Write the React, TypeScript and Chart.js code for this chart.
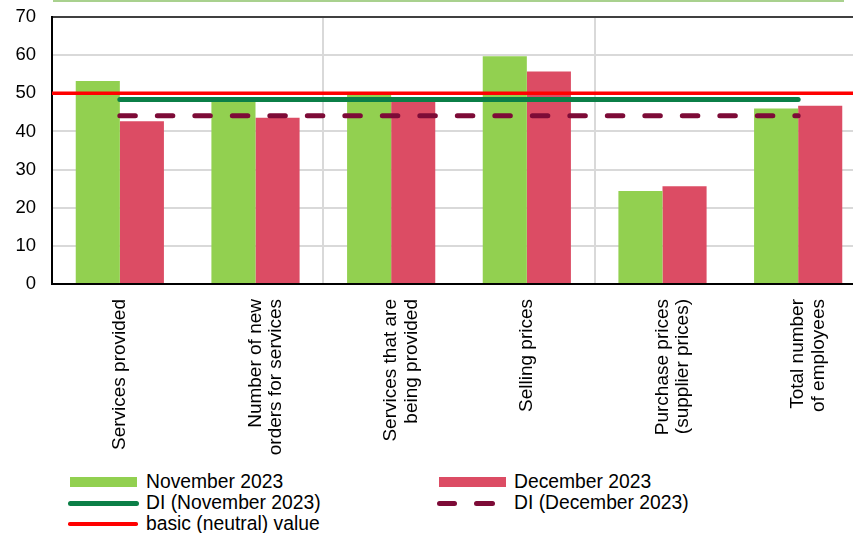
import React, { useEffect, useRef } from "react";
import { Chart, registerables } from "chart.js";

Chart.register(...registerables);

// ---- data ----
const categories: string[][] = [
  ["Services provided"],
  ["Number of new", "orders for services"],
  ["Services that are", "being provided"],
  ["Selling prices"],
  ["Purchase prices", "(supplier prices)"],
  ["Total number", "of employees"],
];
const november2023 = [53.2, 48.0, 49.7, 59.7, 24.4, 46.0];
const december2023 = [42.7, 43.6, 48.4, 55.7, 25.6, 46.7];
const diNovember2023 = [48.4, 48.4, 48.4, 48.4, 48.4, 48.4];
const diDecember2023 = [44.1, 44.1, 44.1, 44.1, 44.1, 44.1];
const neutralValue = 50;
const seriesLabels = [
  "November 2023",
  "December 2023",
  "DI (November 2023)",
  "DI (December 2023)",
  "basic (neutral) value",
];

const COLORS = {
  nov: "#92d050",
  dec: "#dc4c64",
  diNov: "#0b7f47",
  diDec: "#7d0b37",
  neutral: "#ff0000",
};

const FONT = "'Liberation Sans', Arial, sans-serif";

// neutral level: horizontal line across the whole plot area, placed via the y scale
const neutralLinePlugin = {
  id: "neutralLine",
  afterDatasetsDraw(chart: any) {
    const { ctx, chartArea, scales } = chart;
    const y = scales.y.getPixelForValue(neutralValue);
    ctx.save();
    ctx.beginPath();
    ctx.strokeStyle = COLORS.neutral;
    ctx.lineWidth = 3.5;
    ctx.moveTo(chartArea.left, y);
    ctx.lineTo(chartArea.right, y);
    ctx.stroke();
    ctx.restore();
  },
};

export default function App() {
  const ref = useRef<HTMLCanvasElement | null>(null);

  useEffect(() => {
    if (!ref.current) return;
    Chart.defaults.color = "#000";
    Chart.defaults.font.family = FONT;
    const chart = new Chart(ref.current, {
      type: "bar",
      data: {
        labels: categories,
        datasets: [
          {
            type: "bar",
            label: seriesLabels[0],
            data: november2023,
            backgroundColor: COLORS.nov,
            order: 2,
          },
          {
            type: "bar",
            label: seriesLabels[1],
            data: december2023,
            backgroundColor: COLORS.dec,
            order: 2,
          },
          {
            type: "line",
            label: seriesLabels[2],
            data: diNovember2023,
            borderColor: COLORS.diNov,
            backgroundColor: COLORS.diNov,
            borderWidth: 5,
            borderCapStyle: "round",
            pointRadius: 0,
            pointHoverRadius: 0,
            fill: false,
            order: 1,
          },
          {
            type: "line",
            label: seriesLabels[3],
            data: diDecember2023,
            borderColor: COLORS.diDec,
            backgroundColor: COLORS.diDec,
            borderWidth: 5,
            borderCapStyle: "round",
            borderDash: [15.5, 22],
            pointRadius: 0,
            pointHoverRadius: 0,
            fill: false,
            order: 1,
          },
        ],
      },
      options: {
        animation: false,
        responsive: false,
        maintainAspectRatio: false,
        layout: { padding: { top: 17, left: 0, right: 0, bottom: 0 } },
        plugins: {
          legend: { display: false },
          tooltip: { enabled: false },
        },
        datasets: {
          bar: { categoryPercentage: 0.65, barPercentage: 1.0 },
        },
        scales: {
          x: {
            type: "category",
            offset: true,
            grid: {
              offset: true,
              drawTicks: false,
              lineWidth: 2,
              color: (ctx: any) =>
                ctx.index === 2 || ctx.index === 4 ? "#d9d9d9" : "rgba(0,0,0,0)",
            },
            border: { color: "#000", width: 2 },
            ticks: {
              autoSkip: false,
              maxRotation: 90,
              minRotation: 90,
              padding: 15,
              color: "#000",
              font: { family: FONT, size: 19, lineHeight: 1.07 },
            },
            afterFit: (scale: any) => {
              scale.height = 176;
            },
          },
          y: {
            type: "linear",
            min: 0,
            max: 70,
            grid: {
              drawTicks: true,
              tickLength: 16,
              tickColor: "rgba(0,0,0,0)",
              lineWidth: 2,
              color: (ctx: any) =>
                ctx.tick && ctx.tick.value === 70 ? "#404040" : "#d9d9d9",
            },
            border: { color: "#000", width: 2 },
            ticks: {
              stepSize: 10,
              padding: 0,
              color: "#000",
              font: { family: FONT, size: 18.5 },
            },
            afterFit: (scale: any) => {
              scale.width = 52;
            },
          },
        },
      } as any,
      plugins: [neutralLinePlugin],
    });
    return () => chart.destroy();
  }, []);

  const textStyle: React.CSSProperties = {
    position: "absolute",
    fontFamily: FONT,
    fontSize: 19.3,
    lineHeight: "21px",
    color: "#000",
    whiteSpace: "nowrap",
  };

  return (
    <div
      style={{
        position: "fixed",
        left: 0,
        top: 0,
        width: 853,
        height: 533,
        overflow: "hidden",
        background: "#fff",
      }}
    >
      <div
        style={{
          position: "absolute",
          left: 53,
          top: 0,
          width: 791,
          height: 2,
          background: "#a9d18e",
        }}
      />
      <canvas
        ref={ref}
        width={866}
        height={460}
        style={{ position: "absolute", left: 0, top: 0, width: 866, height: 460 }}
      />
      {/* legend */}
      <div style={{ position: "absolute", left: 70, top: 477, width: 67, height: 10, background: COLORS.nov }} />
      <div style={{ ...textStyle, left: 146, top: 471 }}>{seriesLabels[0]}</div>

      <div style={{ position: "absolute", left: 439, top: 477, width: 67, height: 10, background: COLORS.dec }} />
      <div style={{ ...textStyle, left: 514, top: 471 }}>{seriesLabels[1]}</div>

      <div style={{ position: "absolute", left: 68, top: 500.5, width: 71, height: 5, borderRadius: 2.5, background: COLORS.diNov }} />
      <div style={{ ...textStyle, left: 146, top: 492 }}>{seriesLabels[2]}</div>

      <div style={{ position: "absolute", left: 437, top: 500.5, width: 20, height: 5, borderRadius: 2.5, background: COLORS.diDec }} />
      <div style={{ position: "absolute", left: 474, top: 500.5, width: 21, height: 5, borderRadius: 2.5, background: COLORS.diDec }} />
      <div style={{ ...textStyle, left: 514, top: 492 }}>{seriesLabels[3]}</div>

      <div style={{ position: "absolute", left: 68, top: 522, width: 70, height: 3.5, borderRadius: 1.75, background: COLORS.neutral }} />
      <div style={{ ...textStyle, left: 146, top: 513 }}>{seriesLabels[4]}</div>
    </div>
  );
}
